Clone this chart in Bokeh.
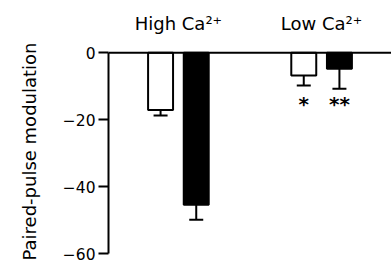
from bokeh.plotting import figure
from bokeh.models import (ColumnDataSource, FactorRange, Range1d, FixedTicker,
                          Span, Whisker, TeeHead, Title)
from bokeh.transform import factor_cmap
from bokeh.core.properties import value
from bokeh.embed import file_html
from bokeh.resources import INLINE

# ---- data ----
groups = ["High Ca\u00b2\u207a", "Low Ca\u00b2\u207a"]
conditions = ["open", "filled"]
means = [-17.1, -45.4, -6.8, -4.8]
errors = [1.7, 4.5, 3.0, 6.0]
significance = ["", "", "*", "**"]
y_ticks = [0, -20, -40, -60]
y_tick_labels = ["0", "\u221220", "\u221240", "\u221260"]
y_label = "Paired-pulse modulation"

factors = [(g, c) for g in groups for c in conditions]
lower = [m - e for m, e in zip(means, errors)]

source = ColumnDataSource(data=dict(x=factors, mean=means, lower=lower,
                                    zero=[0] * len(means), sig=significance))

FONT = "DejaVu Sans"

p = figure(width=391, height=263, output_backend="svg", toolbar_location=None,
           x_range=FactorRange(*factors, factor_padding=0.0, group_padding=2.015,
                               range_padding=0.96, range_padding_units="absolute"),
           y_range=Range1d(-60, 13.2), x_axis_location=None,
           min_border_left=108, min_border_right=0, min_border_top=8,
           min_border_bottom=10)
p.outline_line_color = None
p.xgrid.visible = False
p.ygrid.visible = False
p.background_fill_color = "white"
p.border_fill_color = "white"

p.vbar(x="x", top="zero", bottom="mean", width=0.7, source=source,
       fill_color=factor_cmap("x", palette=["white", "black"], factors=conditions,
                              start=1, end=2),
       line_color="black", line_width=2)

w = Whisker(source=source, base="x", upper="mean", lower="lower",
            line_color="black", line_width=2, upper_head=None,
            lower_head=TeeHead(size=14, line_color="black", line_width=2))
p.add_layout(w)

p.add_layout(Span(location=0, dimension="width", line_color="black", line_width=2))

# significance stars
p.text(x="x", y=-15.3, text="sig", source=source, text_align="center",
       text_baseline="alphabetic", text_font=value(FONT), text_font_size="20px",
       text_font_style="bold", text_color="black")

# group titles
p.text(x=groups, y=[8.8] * len(groups), text=groups, text_align="center",
       text_baseline="alphabetic", text_font=value(FONT), text_font_size="18px",
       text_color="black")

ax = p.yaxis[0]
ax.ticker = FixedTicker(ticks=y_ticks)
ax.major_label_overrides = {t: l for t, l in zip(y_ticks, y_tick_labels)}
ax.bounds = (-60, 0)
ax.minor_tick_line_color = None
ax.major_tick_in = 0
ax.major_tick_out = 10
ax.major_tick_line_width = 2
ax.axis_line_width = 2
ax.major_label_standoff = 3
ax.major_label_text_font = FONT
ax.major_label_text_font_size = "15.5px"
ax.major_label_text_color = "black"

# y-axis title as a side-panel title, anchored near the bottom of the axis
p.add_layout(Title(text=y_label, align="left", vertical_align="top", offset=-7,
                   standoff=36, text_font=FONT, text_font_size="18px",
                   text_font_style="normal", text_color="black"), "left")

open("out.html", "w").write(file_html(p, INLINE))
